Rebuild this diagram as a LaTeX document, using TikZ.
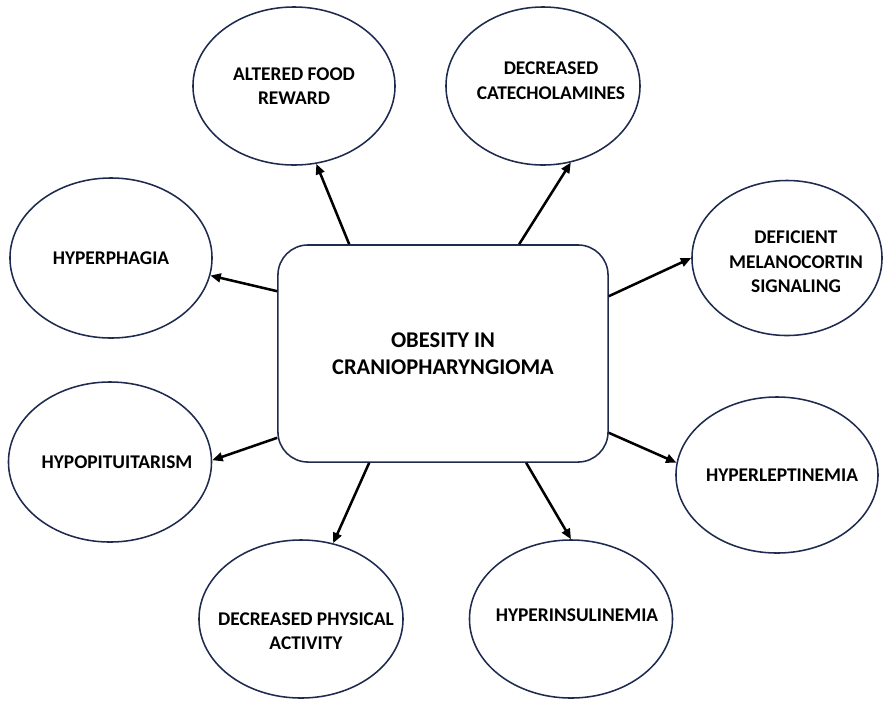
\documentclass[tikz,border=0pt]{standalone}
\usepackage{fontspec}
\setmainfont{Carlito}
\usetikzlibrary{shapes.geometric,arrows.meta,calc}
\definecolor{rimblue}{RGB}{30,42,78}

\begin{document}
\begin{tikzpicture}[x=0.025cm, y=-0.025cm,
    >={Triangle[length=2.6mm,width=2.2mm]},
    bubble/.style={ellipse, draw=rimblue, line width=1.1pt, inner sep=0pt},
    tag/.style={font=\fontsize{13.8}{17.5}\selectfont\bfseries, align=center, inner sep=0pt},
    link/.style={->, line width=1.8pt}]

  \useasboundingbox (0,0) rectangle (883,700);

  % --- Central box ---
  \node[draw=rimblue, line width=1.1pt, rounded corners=0.75cm,
        minimum width=8.25cm, minimum height=5.425cm,
        font=\fontsize{16}{19.5}\selectfont\bfseries, align=center]
        (obesity) at (443,353.5) {OBESITY IN\\CRANIOPHARYNGIOMA};

  % --- Surrounding ellipses ---
  \node[bubble, minimum width=5.05cm, minimum height=3.95cm,
        label={[tag]center:ALTERED FOOD\\REWARD}] (reward) at (294,86) {};
  \node[bubble, minimum width=4.85cm, minimum height=3.95cm,
        label={[tag, xshift=2mm, yshift=1.25mm]center:DECREASED\\CATECHOLAMINES}] (catechol) at (543,86) {};
  \node[bubble, minimum width=5.05cm, minimum height=4cm,
        label={[tag]center:HYPERPHAGIA}] (phagia) at (111,258) {};
  \node[bubble, minimum width=4.75cm, minimum height=3.875cm,
        label={[tag, xshift=2.25mm, yshift=-1mm]center:DEFICIENT\\MELANOCORTIN\\SIGNALING}] (melano) at (787,258) {};
  \node[bubble, minimum width=5.075cm, minimum height=4cm,
        label={[tag, xshift=1.75mm]center:HYPOPITUITARISM}] (pituit) at (110,462) {};
  \node[bubble, minimum width=5.05cm, minimum height=3.9cm,
        label={[tag, xshift=1.25mm]center:HYPERLEPTINEMIA}] (leptin) at (777,475) {};
  \node[bubble, minimum width=5.1cm, minimum height=3.95cm,
        label={[tag, xshift=1.25mm, yshift=-3mm]center:DECREASED PHYSICAL\\ACTIVITY}] (activity) at (301,619) {};
  \node[bubble, minimum width=5.075cm, minimum height=3.95cm,
        label={[tag, xshift=1.5mm, yshift=1mm]center:HYPERINSULINEMIA}] (insulin) at (571,619) {};

  % --- Arrows out of the box ---
  \draw[link] ($(obesity.north west)+(72,0)$) -- (reward.286);
  \draw[link] ($(obesity.north west)+(242,0)$) -- (catechol.290);
  \draw[link] ($(obesity.north west)+(0,47)$) -- (phagia.350);
  \draw[link] ($(obesity.north east)+(0,52)$) -- (melano.180);
  \draw[link] ($(obesity.south west)+(0,-25)$) -- (pituit.1);
  \draw[link] ($(obesity.south east)+(0,-30)$) -- (leptin.173);
  \draw[link] ($(obesity.south west)+(92,0)$) -- (activity.67);
  \draw[link] ($(obesity.south west)+(249,0)$) -- (insulin.90);

\end{tikzpicture}
\end{document}
